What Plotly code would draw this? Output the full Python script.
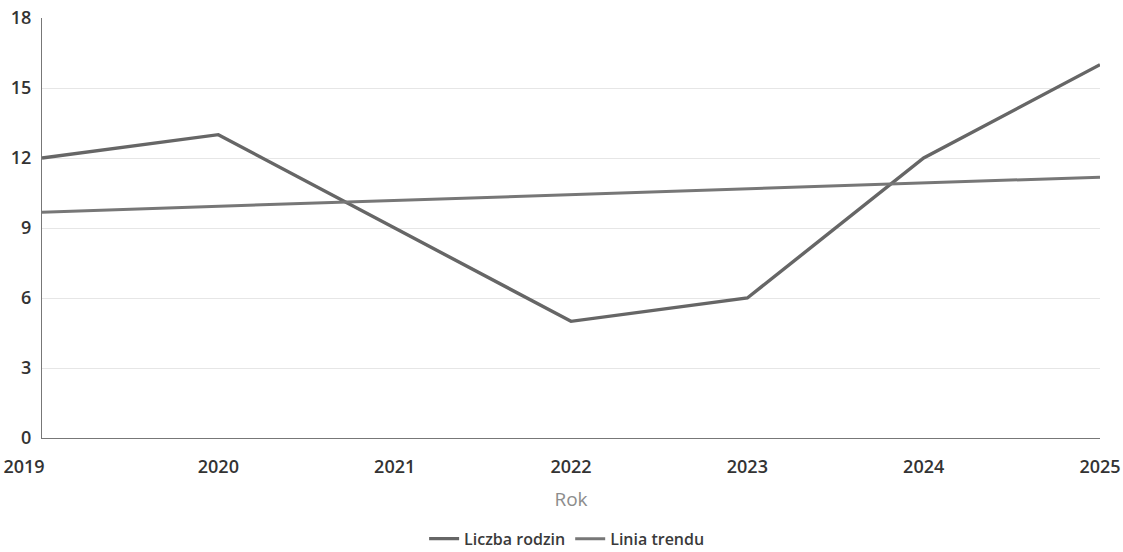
import plotly.graph_objects as go

years = ["2019", "2020", "2021", "2022", "2023", "2024", "2025"]
year_labels = ["2019\u2003\u2003", "2020", "2021", "2022", "2023", "2024", "2025"]
liczba_rodzin = [12, 13, 9, 5, 6, 12, 16]
linia_trendu = [9.68, 9.93, 10.18, 10.43, 10.68, 10.93, 11.18]
y_ticks = [0, 3, 6, 9, 12, 15, 18]

fig = go.Figure()
fig.add_trace(go.Scatter(x=years, y=liczba_rodzin, mode="lines", name="Liczba rodzin",
                         line=dict(color="#666666", width=3.4)))
fig.add_trace(go.Scatter(x=years, y=linia_trendu, mode="lines", name="Linia trendu",
                         line=dict(color="#777777", width=3)))

fig.update_layout(
    width=1123, height=552,
    margin=dict(l=42, r=23, t=18, b=114, autoexpand=False),
    paper_bgcolor="white", plot_bgcolor="white",
    font=dict(family="Open Sans", size=17, color="#333333"),
    showlegend=True,
    legend=dict(orientation="h", x=0.505, xanchor="center", xref="container",
                y=0.024, yanchor="middle", yref="container",
                font=dict(size=16, color="#3a3a3a", weight=600), itemwidth=30, tracegroupgap=0),
    xaxis=dict(
        type="category", range=[0, 6],
        tickvals=years, ticktext=year_labels,
        title=dict(text="Rok", font=dict(size=19, color="#8c8c8c"), standoff=16),
        showgrid=False, showline=True, linecolor="#777777", linewidth=1,
        ticks="", tickfont=dict(size=18, color="#333333", weight=600),
        ticklabelstandoff=12, automargin=False,
        zeroline=False,
    ),
    yaxis=dict(
        range=[0, 18], tickvals=y_ticks,
        showgrid=True, gridcolor="#e6e6e6", gridwidth=1,
        showline=True, linecolor="#777777", linewidth=1,
        ticks="", tickfont=dict(size=18, color="#333333", weight=600),
        ticklabelstandoff=6, automargin=False,
        zeroline=False,
    ),
)

fig.write_html("out.html", config={"displayModeBar": False},
               post_script="document.body.style.margin='0';")
